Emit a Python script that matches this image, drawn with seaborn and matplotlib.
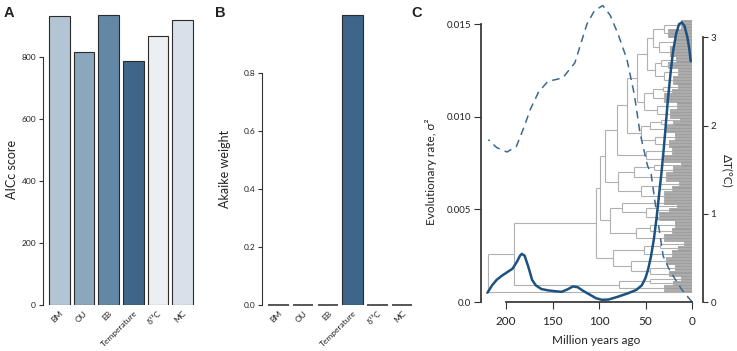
import numpy as np
import pandas as pd
import matplotlib
matplotlib.use("Agg")
import matplotlib.pyplot as plt
import seaborn as sns

# --- data ---
models = ["BM", "OU", "EB", "Temperature", "δ¹³C", "MC"]
aicc = [933, 817, 935, 785, 866, 919]
akaike_w = [0.0, 0.0, 0.0, 1.0, 0.0, 0.0]
bar_colors = ["#b3c5d4", "#8ba7be", "#6388a6", "#3d6688", "#eceff2", "#d8e1e9"]

# evolutionary rate through time (million years ago, sigma^2)
rate_mya = [220, 215, 210, 205, 199, 193, 188, 185, 183, 180, 176, 172, 168, 162, 155,
            147, 140, 134, 128, 123, 117, 110, 103, 97, 90, 80, 70, 60, 54, 50, 47,
            44, 41, 38, 35, 32.6, 30, 26, 23, 20.5, 17, 14, 11, 8, 5, 3, 1.4]
rate_val = [0.0005, 0.0009, 0.0012, 0.0014, 0.0016, 0.0018, 0.0022, 0.0025, 0.0026,
            0.0025, 0.0019, 0.0012, 0.0009, 0.0007, 0.00063, 0.00058, 0.00055,
            0.00068, 0.00084, 0.0008, 0.0006, 0.0004, 0.0002, 0.00012, 0.00013,
            0.00028, 0.00045, 0.00065, 0.0009, 0.0013, 0.0018, 0.0025, 0.0034,
            0.0046, 0.0060, 0.0071, 0.0085, 0.0109, 0.0124, 0.0135, 0.0145, 0.0150,
            0.0151, 0.0149, 0.0143, 0.0137, 0.0130]

# temperature anomaly (dashed line, right axis)
temp_mya = [219, 210, 199, 189, 180, 174, 165, 155, 139, 126, 113, 105, 96, 88, 80,
            70, 62, 56, 48, 44, 40, 36, 31, 25, 20, 11, 0]
temp_val = [1.84, 1.75, 1.70, 1.76, 2.0, 2.18, 2.38, 2.50, 2.54, 2.71, 3.15, 3.30,
            3.36, 3.25, 3.05, 2.75, 2.35, 1.92, 1.55, 1.45, 1.15, 0.87, 0.52, 0.38,
            0.29, 0.14, 0.0]

# simplified phylogeny, listed bottom to top:
# [node age, children...] ; (crown age, n tips) = terminal clade
low = [78, (30, 4), [45, (20, 3), (12, 3)]]
c85 = [85, [66, [45, (25, 4), (18, 4)], (28, 5)], [52, (22, 5), [34, (15, 3), (9, 3)]]]
cl = [88, [60, (30, 5), [45, (22, 4), (18, 5)]], [75, [50, (35, 6), [38, (25, 3), (16, 2)]], (30, 3)]]
cu = [80, [55, (30, 6), [36, (22, 4), (14, 3)]], [62, (28, 6), [41, (20, 4), (12, 3)]]]
c1 = [50, (30, 5), (22, 5)]
c2 = [55, [40, (25, 5), (18, 5)], [45, (28, 5), [33, (20, 3), (13, 2)]]]
c3 = [52, [38, (24, 6), (16, 5)], [42, (30, 6), [31, (22, 3), (15, 3)]]]
c4 = [48, [40, [30, (20, 6), (15, 5)], [33, (26, 4), (17, 4)]],
      [42, [35, (24, 7), (18, 6)], [30, (26, 6), (12, 6)]]]
tree = [219,
        (10, 1),
        [191, low,
         [103, c85,
          [99, cl,
           [94, cu,
            [81, c1, [70, c2, [59, c3, c4]]]]]]]]

sns.set_theme(style="ticks")
plt.rcParams["font.family"] = ["Lato", "DejaVu Sans"]
plt.rcParams["text.color"] = "#222222"
plt.rcParams["axes.labelcolor"] = "#222222"

W, H = 737, 351
fig = plt.figure(figsize=(W / 100, H / 100), dpi=100)


def box(l, r, t, b):
    return [l / W, 1 - b / H, (r - l) / W, (b - t) / H]


def bar_panel(ax, vals, ylabel, yt, ytl, ytop, lab_x):
    sns.barplot(x=models, y=vals, hue=models, palette=bar_colors, legend=False,
                ax=ax, width=0.83, saturation=1, edgecolor="#2b2b2b", linewidth=0.8)
    # zero-height bars still show as a flat line
    for p in ax.patches:
        if p.get_height() == 0:
            ax.hlines(0, p.get_x(), p.get_x() + p.get_width(), color="#2b2b2b",
                      lw=1.1, clip_on=False)
    ax.set_xlim(-0.66, 5.5)
    ax.set_ylim(0, ytop)
    ax.set_yticks(yt)
    ax.set_yticklabels(ytl)
    for s in ["top", "right", "bottom"]:
        ax.spines[s].set_visible(False)
    ax.spines["left"].set_bounds(yt[0], yt[-1])
    ax.spines["left"].set_linewidth(0.8)
    ax.tick_params(axis="y", direction="out", length=3, width=0.8, labelsize=6, pad=2)
    ax.tick_params(axis="x", length=0, labelsize=6, pad=3)
    ax.set_xticks(range(len(models)))
    ax.set_xticklabels(models, rotation=45, ha="right", rotation_mode="anchor")
    ax.set_xlabel("")
    ax.set_ylabel(ylabel, fontsize=9)
    ax.yaxis.set_label_coords(lab_x, 0.46)


axA = fig.add_axes(box(43, 195, 10, 305))
bar_panel(axA, aicc, "AICc score", [0, 200, 400, 600, 800],
          ["0", "200", "400", "600", "800"], 951, -0.165)
axB = fig.add_axes(box(262, 414.6, 10, 305))
bar_panel(axB, akaike_w, "Akaike weight", [0, 0.2, 0.4, 0.6, 0.8],
          ["0.0", "0.2", "0.4", "0.6", "0.8"], 1.0186, -0.205)

# --- panel C ---
axC = fig.add_axes(box(481, 703, 5, 302))
axT = axC.twinx()
axC.set_xlim(226.9, -11.8)
axC.set_ylim(0, 0.01604)
axT.set_ylim(0, 3.366)


def count_tips(node):
    if isinstance(node, tuple):
        return node[1]
    return sum(count_tips(c) for c in node[1:])


n_tips = count_tips(tree)
y_bot, y_top = 0.113, 3.185
step = (y_top - y_bot) / (n_tips - 1)
hsegs, vsegs, tipsegs = [], [], []
counter = [0]


def layout(node):
    if isinstance(node, tuple):
        crown, n = node
        ys = [y_bot + (counter[0] + k) * step for k in range(n)]
        counter[0] += n
        for y in ys:
            tipsegs.append((y, crown, 0))
        vsegs.append((crown, ys[0], ys[-1]))
        return crown, (ys[0] + ys[-1]) / 2
    age = node[0]
    kids = [layout(c) for c in node[1:]]
    ks = [k[1] for k in kids]
    for kage, ky in kids:
        hsegs.append((ky, age, kage))
    vsegs.append((age, min(ks), max(ks)))
    return age, (min(ks) + max(ks)) / 2


layout(tree)
tb = pd.DataFrame(tipsegs, columns=["y", "x0", "x1"])
hb = pd.DataFrame(hsegs, columns=["y", "x0", "x1"])
vb = pd.DataFrame(vsegs, columns=["x", "y0", "y1"])
axT.hlines(tb["y"], tb["x0"], tb["x1"], color="#9c9c9c", lw=1.2, zorder=1)
axT.hlines(hb["y"], hb["x0"], hb["x1"], color="#b0b0b0", lw=0.8, zorder=1)
axT.vlines(vb["x"], vb["y0"], vb["y1"], color="#b0b0b0", lw=0.8, zorder=1)

sns.lineplot(x=temp_mya, y=temp_val, ax=axT, color="#3a6a93", lw=1.1, zorder=3)
axT.lines[-1].set_dashes((5, 3.5))
axT.lines[-1].set_clip_on(False)
sns.lineplot(x=rate_mya, y=rate_val, ax=axC, color="#1d5280", lw=1.8, zorder=4)
axC.lines[-1].set_clip_on(False)

axC.set_zorder(axT.get_zorder() + 1)
axC.patch.set_visible(False)

axC.set_yticks([0, 0.005, 0.01, 0.015])
axC.set_yticklabels(["0.0", "0.005", "0.010", "0.015"])
axC.set_xticks([200, 150, 100, 50, 0])
axC.set_xticklabels(["200", "150", "100", "50", "0"])
for s in ["top", "right"]:
    axC.spines[s].set_visible(False)
axC.spines["left"].set_bounds(0, 0.015)
axC.spines["bottom"].set_bounds(0, 200)
axC.tick_params(axis="y", direction="out", length=5, width=0.8, labelsize=7, pad=2)
axC.tick_params(axis="x", direction="out", length=5, width=0.8, labelsize=8.5, pad=5)
axC.set_ylabel("Evolutionary rate, σ²", fontsize=8.5)
axC.yaxis.set_label_coords(-0.2, 0.44)
axC.set_xlabel("Million years ago", fontsize=8.5)
axC.xaxis.set_label_coords(0.518, -0.128)
axC.xaxis.label.set_va("center")

for s in ["top", "left", "bottom"]:
    axT.spines[s].set_visible(False)
axT.spines["right"].set_bounds(0, 3)
axT.set_yticks([0, 1, 2, 3])
axT.set_yticklabels(["0", "1", "2", "3"])
axT.tick_params(axis="y", direction="out", length=3.5, width=0.8, labelsize=7, pad=2)
axT.set_ylabel("ΔT(°C)", fontsize=8.5, rotation=270)
axT.yaxis.set_label_coords(1.11, 0.44)
axT.yaxis.label.set_va("center")

for ax in [axA, axB, axC, axT]:
    for s in ax.spines.values():
        s.set_color("#333333")
    ax.tick_params(colors="#333333", labelcolor="#222222")

for x, lab in [(9, "A"), (220, "B"), (417, "C")]:
    fig.text(x / W, 1 - 13 / H, lab, fontsize=10.5, fontweight="bold",
             family=["Liberation Sans", "DejaVu Sans"], ha="center", va="center")

fig.savefig("out.png", dpi=100)
